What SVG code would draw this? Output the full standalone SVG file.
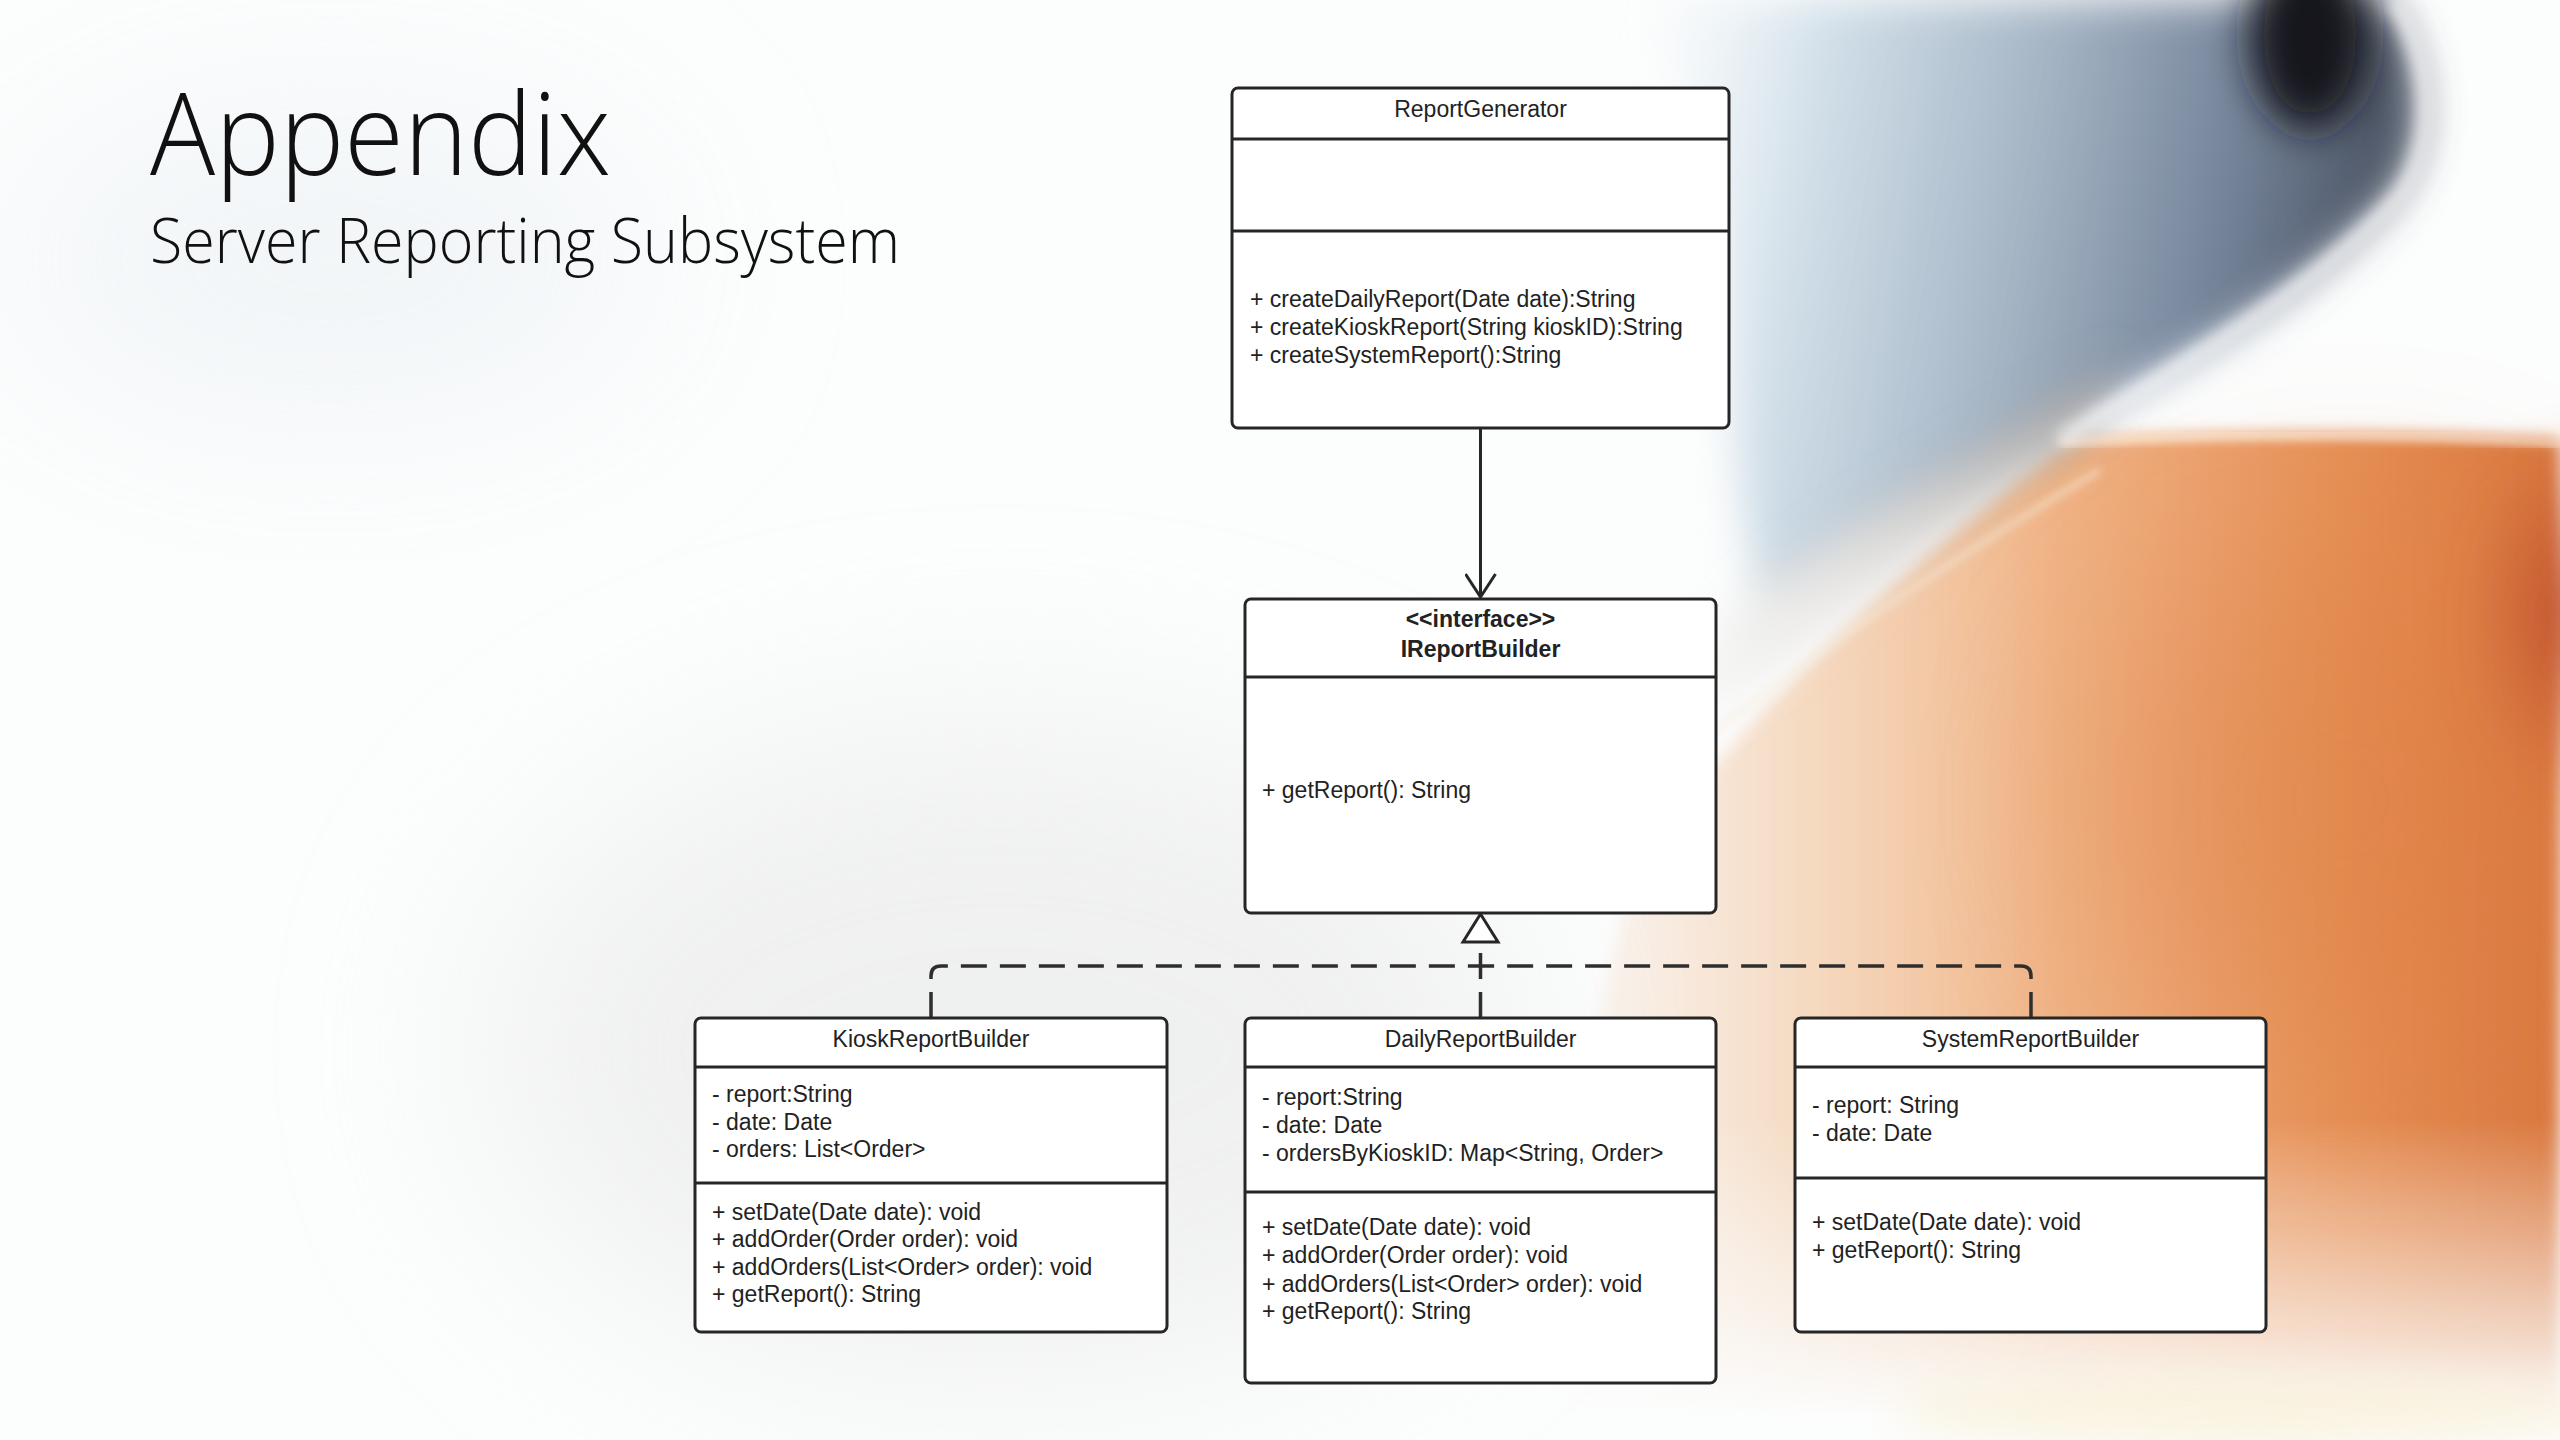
<svg xmlns="http://www.w3.org/2000/svg" width="2560" height="1440" viewBox="0 0 2560 1440">
<defs>
<style>
.box{fill:#ffffff;stroke:#262626;stroke-width:3}
.div{stroke:#262626;stroke-width:3}
.t{font-family:"Liberation Sans",Arial,sans-serif;font-size:23px;fill:#222}
.c{text-anchor:middle}
.b{font-weight:bold}
.dash{fill:none;stroke:#2e2e2e;stroke-width:3.5;stroke-dasharray:26 13}
.solid{fill:none;stroke:#262626;stroke-width:3}
.ttl{font-family:"Open Sans","Lato","Noto Sans",sans-serif;font-weight:300;fill:#111}
</style>
<filter id="b100" x="-50%" y="-50%" width="200%" height="200%"><feGaussianBlur stdDeviation="100"/></filter>
<filter id="b40" x="-50%" y="-50%" width="200%" height="200%"><feGaussianBlur stdDeviation="40"/></filter>
<filter id="b20" x="-50%" y="-50%" width="200%" height="200%"><feGaussianBlur stdDeviation="20"/></filter>
<filter id="b8" x="-50%" y="-50%" width="200%" height="200%"><feGaussianBlur stdDeviation="8"/></filter>
<filter id="b4" x="-50%" y="-50%" width="200%" height="200%"><feGaussianBlur stdDeviation="4"/></filter>
<linearGradient id="gBowl" gradientUnits="userSpaceOnUse" x1="1640" y1="0" x2="2390" y2="120">
<stop offset="0" stop-color="#e4eef4" stop-opacity="0"/>
<stop offset="0.25" stop-color="#cddce7" stop-opacity="0.9"/>
<stop offset="0.55" stop-color="#a3b3c3"/>
<stop offset="0.8" stop-color="#75849a"/>
<stop offset="1" stop-color="#4d5666"/>
</linearGradient>
<linearGradient id="gTail" gradientUnits="userSpaceOnUse" x1="2100" y1="380" x2="1650" y2="780">
<stop offset="0" stop-color="#a9a29c" stop-opacity="0.8"/>
<stop offset="1" stop-color="#d9d2cc" stop-opacity="0"/>
</linearGradient>
<linearGradient id="gOr" gradientUnits="userSpaceOnUse" x1="1500" y1="0" x2="2560" y2="0">
<stop offset="0" stop-color="#f5dcc6" stop-opacity="0"/>
<stop offset="0.28" stop-color="#f3d2b4" stop-opacity="0.8"/>
<stop offset="0.52" stop-color="#f0b487"/>
<stop offset="0.8" stop-color="#e58f55"/>
<stop offset="1" stop-color="#d9773f"/>
</linearGradient>
<linearGradient id="gFade" gradientUnits="userSpaceOnUse" x1="0" y1="420" x2="0" y2="1420">
<stop offset="0" stop-color="#fff"/>
<stop offset="0.7" stop-color="#fff"/>
<stop offset="0.93" stop-color="#fff" stop-opacity="0.25"/>
<stop offset="1" stop-color="#fff" stop-opacity="0"/>
</linearGradient>
<mask id="mFade" maskUnits="userSpaceOnUse" x="0" y="0" width="2560" height="1440">
<rect x="0" y="0" width="2560" height="1440" fill="url(#gFade)"/>
</mask>
<radialGradient id="gRed" cx="0.5" cy="0.5" r="0.5">
<stop offset="0" stop-color="#b9482a" stop-opacity="0.9"/>
<stop offset="1" stop-color="#c4572f" stop-opacity="0"/>
</radialGradient>
<marker id="open" viewBox="0 0 26 32" refX="24" refY="16" markerWidth="26" markerHeight="32" markerUnits="userSpaceOnUse" orient="auto">
<path d="M1,1 L24,16 L1,31" fill="none" stroke="#262626" stroke-width="3"/>
</marker>
</defs>

<g id="background">
<rect x="0" y="0" width="2560" height="1440" fill="#fcfdfd"/>
<ellipse cx="330" cy="260" rx="320" ry="150" fill="#eef3f6" opacity="0.8" filter="url(#b100)"/>
<ellipse cx="1000" cy="1050" rx="520" ry="330" fill="#e6e6e6" opacity="0.55" filter="url(#b100)"/>
<g mask="url(#mFade)">
<path d="M2070,440 C2200,430 2450,432 2560,440 L2560,1420 L1560,1420 C1560,1200 1600,980 1640,860 C1760,690 1950,530 2070,440 Z" fill="url(#gOr)" filter="url(#b8)"/>
<ellipse cx="2570" cy="620" rx="110" ry="190" fill="url(#gRed)" filter="url(#b20)"/>
<ellipse cx="2350" cy="800" rx="260" ry="260" fill="#dd7e42" opacity="0.35" filter="url(#b100)"/>
</g>
<path d="M1640,0 L2385,0 C2435,70 2430,160 2385,205 C2300,300 2170,370 2060,430 C1960,480 1850,530 1760,600 C1730,480 1730,360 1720,260 C1710,160 1690,80 1640,0 Z" fill="url(#gBowl)" filter="url(#b20)"/>
<path d="M2120,360 C2020,420 1880,500 1760,580 C1700,640 1660,720 1630,800 C1740,700 1880,580 2080,445 Z" fill="url(#gTail)" filter="url(#b20)"/>
<ellipse cx="2310" cy="35" rx="60" ry="95" fill="#14171d" filter="url(#b20)"/>
<path d="M2392,0 C2440,70 2432,165 2390,205 C2300,300 2160,375 2060,440" fill="none" stroke="#ffffff" stroke-width="12" opacity="0.85" filter="url(#b8)"/>
<path d="M2060,443 C2250,432 2450,436 2560,444" fill="none" stroke="#fff4e4" stroke-width="6" opacity="0.7" filter="url(#b4)"/>
<path d="M2100,470 C1950,560 1750,690 1560,860" fill="none" stroke="#f7ecdc" stroke-width="5" opacity="0.7" filter="url(#b4)"/>
<ellipse cx="2250" cy="1410" rx="360" ry="35" fill="#f9f1da" opacity="0.8" filter="url(#b20)"/>
</g>

<g id="title">
<text class="ttl" x="150" y="175" font-size="114" textLength="461" lengthAdjust="spacingAndGlyphs">Appendix</text>
<text class="ttl" x="150" y="263" font-size="63" textLength="750" lengthAdjust="spacingAndGlyphs" fill="#1a1a1a">Server Reporting Subsystem</text>
</g>

<g id="connectors">
<line class="solid" x1="1480.5" y1="428" x2="1480.5" y2="597" marker-end="url(#open)"/>
<path class="dash" d="M931,1018 L931,976 Q931,966 941,966 L1480,966"/>
<path class="dash" d="M2031,1018 L2031,976 Q2031,966 2021,966 L1480,966"/>
<path class="dash" d="M1480.5,1018 L1480.5,942"/>
<path d="M1480.5,914 L1463,942 L1498,942 Z" fill="#ffffff" stroke="#262626" stroke-width="3" stroke-linejoin="miter"/>
</g>

<g id="ReportGenerator">
<rect class="box" x="1232" y="88" width="497" height="340" rx="6"/>
<line class="div" x1="1232" y1="139" x2="1729" y2="139"/>
<line class="div" x1="1232" y1="231" x2="1729" y2="231"/>
<text class="t c" x="1480.5" y="117">ReportGenerator</text>
<text class="t" x="1250" y="307">+ createDailyReport(Date date):String</text>
<text class="t" x="1250" y="335">+ createKioskReport(String kioskID):String</text>
<text class="t" x="1250" y="363">+ createSystemReport():String</text>
</g>

<g id="IReportBuilder">
<rect class="box" x="1245" y="599" width="471" height="314" rx="6"/>
<line class="div" x1="1245" y1="677" x2="1716" y2="677"/>
<text class="t c b" x="1480.5" y="627">&lt;&lt;interface&gt;&gt;</text>
<text class="t c b" x="1480.5" y="657">IReportBuilder</text>
<text class="t" x="1262" y="798">+ getReport(): String</text>
</g>

<g id="KioskReportBuilder">
<rect class="box" x="695" y="1018" width="472" height="314" rx="6"/>
<line class="div" x1="695" y1="1067" x2="1167" y2="1067"/>
<line class="div" x1="695" y1="1183" x2="1167" y2="1183"/>
<text class="t c" x="931" y="1047">KioskReportBuilder</text>
<text class="t" x="712" y="1102">- report:String</text>
<text class="t" x="712" y="1130">- date: Date</text>
<text class="t" x="712" y="1157">- orders: List&lt;Order&gt;</text>
<text class="t" x="712" y="1220">+ setDate(Date date): void</text>
<text class="t" x="712" y="1247">+ addOrder(Order order): void</text>
<text class="t" x="712" y="1275">+ addOrders(List&lt;Order&gt; order): void</text>
<text class="t" x="712" y="1302">+ getReport(): String</text>
</g>

<g id="DailyReportBuilder">
<rect class="box" x="1245" y="1018" width="471" height="365" rx="6"/>
<line class="div" x1="1245" y1="1067" x2="1716" y2="1067"/>
<line class="div" x1="1245" y1="1192" x2="1716" y2="1192"/>
<text class="t c" x="1480.5" y="1047">DailyReportBuilder</text>
<text class="t" x="1262" y="1105">- report:String</text>
<text class="t" x="1262" y="1133">- date: Date</text>
<text class="t" x="1262" y="1161">- ordersByKioskID: Map&lt;String, Order&gt;</text>
<text class="t" x="1262" y="1235">+ setDate(Date date): void</text>
<text class="t" x="1262" y="1263">+ addOrder(Order order): void</text>
<text class="t" x="1262" y="1292">+ addOrders(List&lt;Order&gt; order): void</text>
<text class="t" x="1262" y="1319">+ getReport(): String</text>
</g>

<g id="SystemReportBuilder">
<rect class="box" x="1795" y="1018" width="471" height="314" rx="6"/>
<line class="div" x1="1795" y1="1067" x2="2266" y2="1067"/>
<line class="div" x1="1795" y1="1178" x2="2266" y2="1178"/>
<text class="t c" x="2030.5" y="1047">SystemReportBuilder</text>
<text class="t" x="1812" y="1113">- report: String</text>
<text class="t" x="1812" y="1141">- date: Date</text>
<text class="t" x="1812" y="1230">+ setDate(Date date): void</text>
<text class="t" x="1812" y="1258">+ getReport(): String</text>
</g>
</svg>
